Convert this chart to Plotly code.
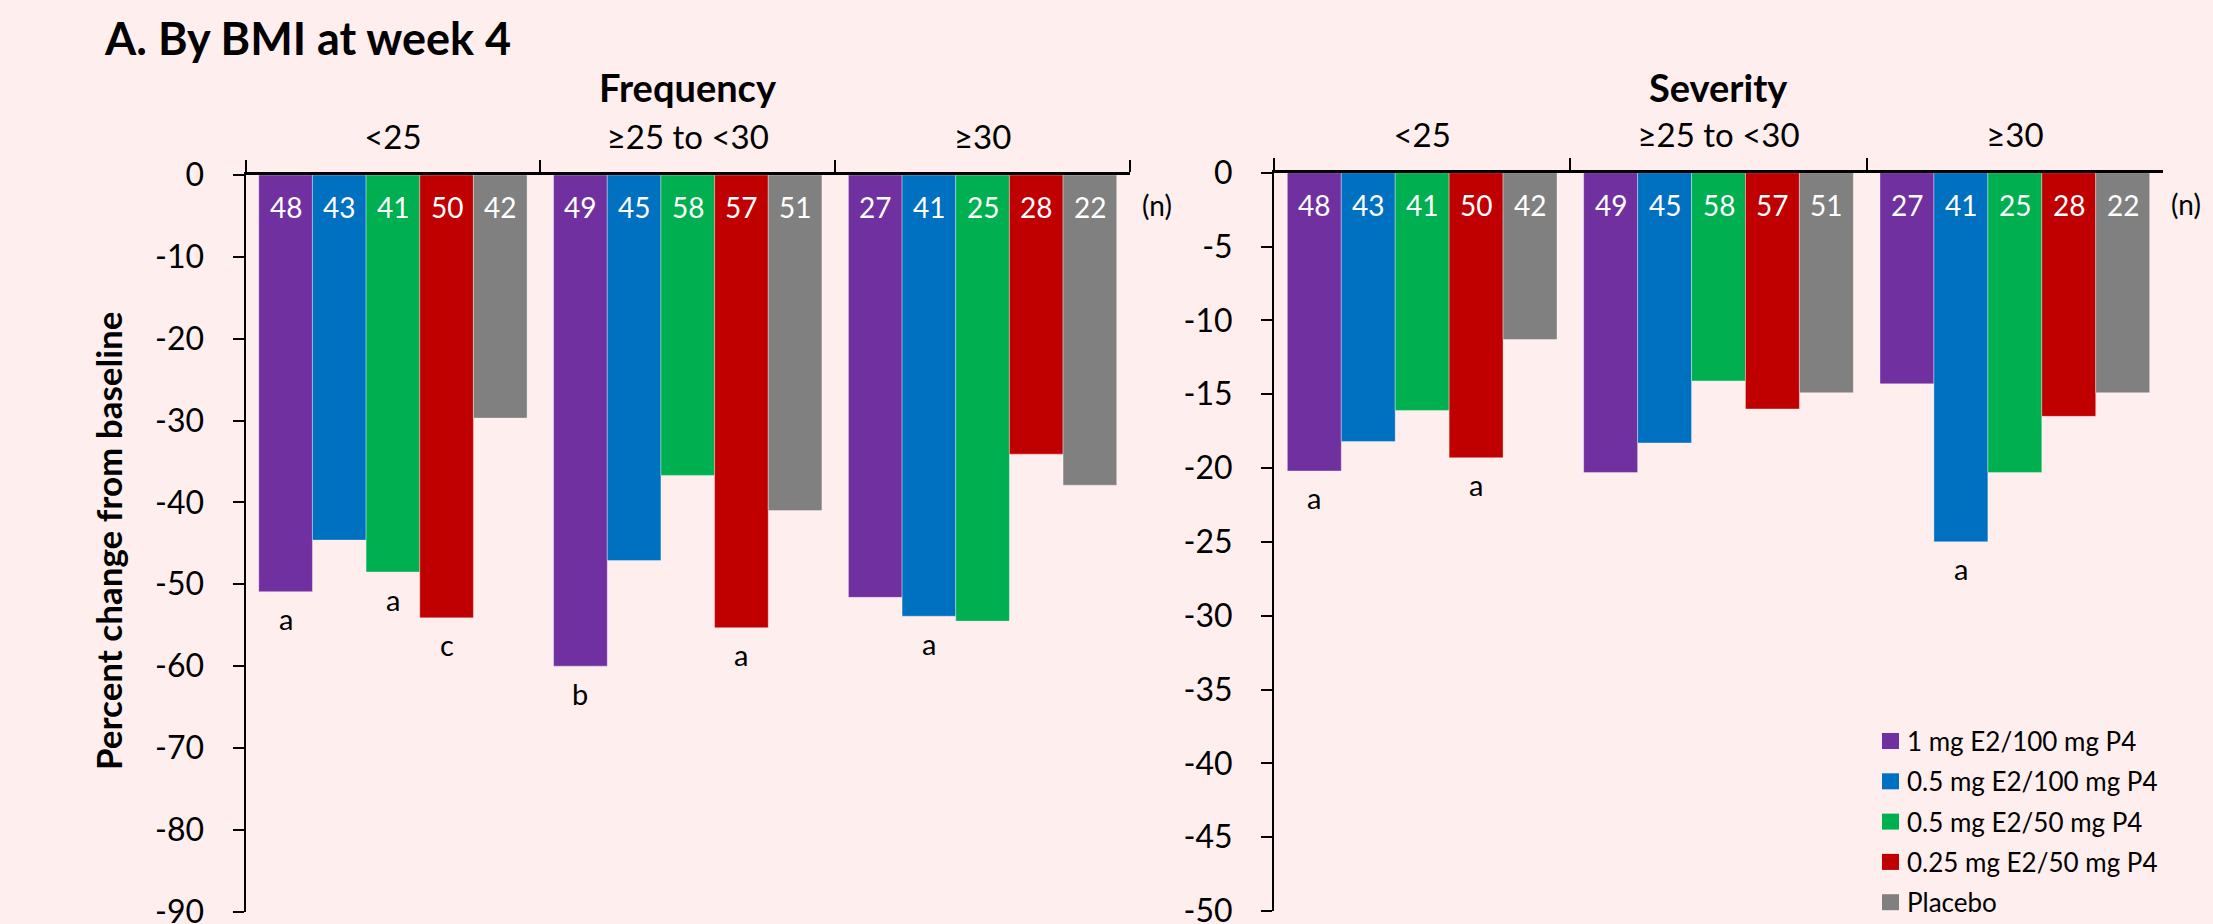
import plotly.graph_objects as go

# BMI categories and treatment arms
categories = ["<25", "≥25 to <30", "≥30"]
arms = ["1 mg E2/100 mg P4", "0.5 mg E2/100 mg P4", "0.5 mg E2/50 mg P4",
        "0.25 mg E2/50 mg P4", "Placebo"]
colors = ["#7030A0", "#0070C0", "#00B050", "#C00000", "#808080"]

# Percent change from baseline, per arm, across BMI categories
freq_1mg_100 = [-50.9, -60.0, -51.6]
freq_05mg_100 = [-44.6, -47.1, -53.9]
freq_05mg_50 = [-48.5, -36.7, -54.5]
freq_025mg_50 = [-54.1, -55.3, -34.1]
freq_placebo = [-29.7, -41.0, -37.9]

sev_1mg_100 = [-20.2, -20.3, -14.3]
sev_05mg_100 = [-18.2, -18.3, -25.0]
sev_05mg_50 = [-16.1, -14.1, -20.3]
sev_025mg_50 = [-19.3, -16.0, -16.5]
sev_placebo = [-11.3, -14.9, -14.9]

# Number of subjects (n) per arm, per BMI category
n_1mg_100 = [48, 49, 27]
n_05mg_100 = [43, 45, 41]
n_05mg_50 = [41, 58, 25]
n_025mg_50 = [50, 57, 28]
n_placebo = [42, 51, 22]

# Significance markers: (category index, arm index, letter)
freq_sig = [(0, 0, "a"), (0, 2, "a"), (0, 3, "c"), (1, 0, "b"), (1, 3, "a"), (2, 1, "a")]
sev_sig = [(0, 0, "a"), (0, 3, "a"), (2, 1, "a")]

# Y tick values for each panel
freq_ticks = [0, -10, -20, -30, -40, -50, -60, -70, -80, -90]
sev_ticks = [0, -5, -10, -15, -20, -25, -30, -35, -40, -45, -50]

freq_series = [freq_1mg_100, freq_05mg_100, freq_05mg_50, freq_025mg_50, freq_placebo]
sev_series = [sev_1mg_100, sev_05mg_100, sev_05mg_50, sev_025mg_50, sev_placebo]
n_series = [n_1mg_100, n_05mg_100, n_05mg_50, n_025mg_50, n_placebo]

W, H = 2213, 924
FONT = "Lato"
BG = "#FFEEEE"
BARGAP = 0.09


def px(x):
    return x / W


def py(y):
    return 1 - y / H


fig = go.Figure()

panels = [
    dict(series=freq_series, xa="x", ya="y", sig=freq_sig),
    dict(series=sev_series, xa="x2", ya="y2", sig=sev_sig),
]

for p in panels:
    for i, (name, vals) in enumerate(zip(arms, p["series"])):
        fig.add_trace(go.Bar(
            x=categories, y=vals, name=name,
            marker=dict(color=colors[i], line=dict(width=1, color="rgba(255,255,255,0.35)")),
            xaxis=p["xa"], yaxis=p["ya"], showlegend=False,
            offsetgroup=str(i), hoverinfo="skip",
        ))

annotations = []
slot = (1 - BARGAP) / len(arms)


def bar_center(ci, ai):
    return ci + (ai - (len(arms) - 1) / 2) * slot


for p in panels:
    # n counts near the baseline inside each bar
    for ai, counts in enumerate(n_series):
        for ci, n in enumerate(counts):
            annotations.append(dict(
                x=bar_center(ci, ai), y=0, xref=p["xa"], yref=p["ya"],
                text=str(n), showarrow=False, yanchor="middle", yshift=-32,
                font=dict(family=FONT, size=28, color="white"),
            ))
    # significance letters below bar ends
    for ci, ai, letter in p["sig"]:
        annotations.append(dict(
            x=bar_center(ci, ai), y=p["series"][ai][ci], xref=p["xa"], yref=p["ya"],
            text=letter, showarrow=False, yanchor="middle", yshift=-27,
            font=dict(family=FONT, size=29, color="black"),
        ))

# (n) markers
for xc, yc in [(1157, 205), (2186, 204)]:
    annotations.append(dict(x=px(xc), y=py(yc), xref="paper", yref="paper",
                            text="(n)", showarrow=False, xanchor="center", yanchor="middle",
                            font=dict(family=FONT, size=28, color="black")))

# Titles
annotations.append(dict(x=px(102), y=py(38), xref="paper", yref="paper",
                        text="<b>A. By BMI at week 4</b>", showarrow=False,
                        xanchor="left", yanchor="middle",
                        font=dict(family=FONT, size=45, color="black")))
annotations.append(dict(x=px(688), y=py(87), xref="paper", yref="paper",
                        text="<b>Frequency</b>", showarrow=False,
                        xanchor="center", yanchor="middle",
                        font=dict(family=FONT, size=38, color="black")))
annotations.append(dict(x=px(1718), y=py(87), xref="paper", yref="paper",
                        text="<b>Severity</b>", showarrow=False,
                        xanchor="center", yanchor="middle",
                        font=dict(family=FONT, size=38, color="black")))
annotations.append(dict(x=px(108), y=py(541), xref="paper", yref="paper",
                        text="<b>Percent change from baseline</b>", showarrow=False,
                        textangle=-90, xanchor="center", yanchor="middle",
                        font=dict(family=FONT, size=35, color="black")))

# Legend drawn as swatches plus labels
shapes = []
for k, (name, col) in enumerate(zip(arms, colors)):
    yc = 741 + 40.3 * k
    shapes.append(dict(type="rect", xref="paper", yref="paper",
                       x0=px(1882), x1=px(1899), y0=py(yc + 8), y1=py(yc - 8),
                       fillcolor=col, line=dict(width=0)))
    annotations.append(dict(x=px(1905), y=py(yc), xref="paper", yref="paper",
                            text=name, showarrow=False, xanchor="left", yanchor="middle",
                            font=dict(family=FONT, size=26, color="black")))

tickfont = dict(family=FONT, size=32, color="black")
catfont = dict(family=FONT, size=33, color="black")

left_dom = [px(245.5), px(1130)]
right_dom = [px(1274), px(2163)]
left_ydom = [py(911.7), py(175)]
right_ydom = [py(911), py(172.7)]

xcat = dict(type="category", categoryorder="array", categoryarray=categories,
            range=[-0.5, 2.5], side="top", showline=True, linewidth=3, linecolor="black",
            ticks="outside", tickson="boundaries", ticklen=12, tickwidth=2, tickcolor="black",
            tickfont=catfont, ticklabelstandoff=10, showgrid=False, zeroline=False,
            automargin=False, fixedrange=True)
xinner = dict(type="linear", range=[-0.5, 2.5], side="top", showline=False,
              tickmode="array", tickvals=[-0.5, 0.5, 1.5, 2.5], ticks="inside",
              ticklen=12, tickwidth=2, tickcolor="black", showticklabels=False,
              showgrid=False, zeroline=False, automargin=False)
yleft = dict(showline=True, linewidth=2, linecolor="black", ticks="outside", ticklen=11,
             tickwidth=2, tickcolor="black", tickfont=tickfont, ticklabelstandoff=22,
             ticklabeloverflow="allow", showgrid=False, zeroline=False, automargin=False,
             tickmode="array")
yinner = dict(showline=False, ticks="inside", ticklen=12, tickwidth=2, tickcolor="black",
              showticklabels=False, showgrid=False, zeroline=False, automargin=False,
              tickmode="array")

fig.update_layout(
    template="none",
    width=W, height=H, autosize=False,
    margin=dict(l=0, r=0, t=0, b=0, pad=0),
    paper_bgcolor=BG, plot_bgcolor=BG,
    barmode="group", bargap=BARGAP, bargroupgap=0,
    font=dict(family=FONT, color="black"),
    xaxis=dict(domain=left_dom, anchor="y", **xcat),
    yaxis=dict(domain=left_ydom, anchor="x", range=[-90, 0],
               tickvals=freq_ticks, ticktext=[str(v) for v in freq_ticks], **yleft),
    xaxis2=dict(domain=right_dom, anchor="y2", **xcat),
    yaxis2=dict(domain=right_ydom, anchor="x2", range=[-50, 0],
                tickvals=sev_ticks, ticktext=[str(v) for v in sev_ticks], **yleft),
    xaxis3=dict(overlaying="x", anchor="y", **xinner),
    yaxis3=dict(overlaying="y", anchor="x", range=[-90, 0], tickvals=freq_ticks, **yinner),
    xaxis4=dict(overlaying="x2", anchor="y2", **xinner),
    yaxis4=dict(overlaying="y2", anchor="x2", range=[-50, 0], tickvals=sev_ticks, **yinner),
    annotations=annotations,
    shapes=shapes,
)

fig.write_html("out.html")
